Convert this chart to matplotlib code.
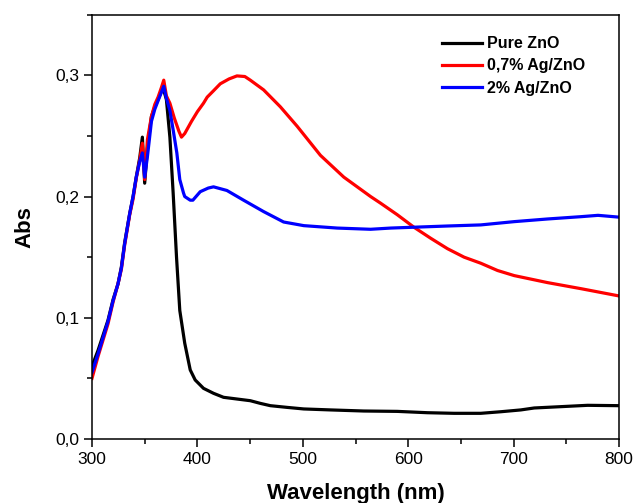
import matplotlib.pyplot as plt
from matplotlib.ticker import MultipleLocator, FuncFormatter

plt.rcParams['font.family'] = ['Liberation Sans', 'DejaVu Sans']

# Espectros UV-Vis (absorbancia x comprimento de onda)
wl_pure = [300, 305.7, 315.2, 320, 324.7, 327.9, 331, 335.8, 339, 342, 345.3, 347.8, 350,
           352.6, 356.4, 359.6, 362.7, 365.9, 368, 370.6, 373.9, 377, 380.2, 383.3, 388,
           393.2, 397.9, 405.8, 415.3, 424.8, 437.5, 450.2, 459.7, 469.2, 485, 500.9, 526.2,
           557.9, 589.6, 618.1, 643.5, 668.8, 687.8, 706.8, 719.5, 744.9, 770.2, 800]
abs_pure = [0.060, 0.073, 0.098, 0.115, 0.128, 0.142, 0.162, 0.186, 0.200, 0.216, 0.232,
            0.249, 0.211, 0.240, 0.266, 0.274, 0.280, 0.287, 0.288, 0.280, 0.249, 0.203,
            0.150, 0.106, 0.079, 0.057, 0.0487, 0.0418, 0.0377, 0.0344, 0.033, 0.0316,
            0.0294, 0.0275, 0.0261, 0.0248, 0.024, 0.0231, 0.0228, 0.0217, 0.0212, 0.0212,
            0.0225, 0.024, 0.0256, 0.0267, 0.0278, 0.0275]

wl_ag07 = [300, 305.7, 315.2, 320, 324.7, 327.9, 331, 335.8, 339, 342, 345.3, 347.8, 350,
           352.6, 356.4, 359.6, 362.7, 365.9, 368.1, 370.6, 373.9, 378, 382.4, 384.9, 388,
           394.4, 400, 405.8, 409.3, 415, 421.7, 430, 437.5, 445, 450.2, 462.8, 478.7, 494.6,
           516.7, 538.9, 564.3, 573.8, 589.6, 605.4, 621.3, 637.2, 653, 668.8, 684.7, 700.5,
           732.2, 763.9, 800]
abs_ag07 = [0.050, 0.068, 0.095, 0.113, 0.128, 0.140, 0.160, 0.185, 0.198, 0.215, 0.230,
            0.244, 0.214, 0.247, 0.266, 0.276, 0.282, 0.290, 0.296, 0.283, 0.277, 0.265,
            0.254, 0.249, 0.252, 0.262, 0.270, 0.277, 0.282, 0.287, 0.293, 0.297, 0.2995,
            0.299, 0.296, 0.288, 0.274, 0.258, 0.234, 0.216, 0.200, 0.1945, 0.185, 0.1747,
            0.1656, 0.157, 0.150, 0.145, 0.139, 0.1348, 0.129, 0.124, 0.118]

wl_ag2 = [300, 305.7, 315.2, 320, 324.7, 327.9, 331, 335.8, 339, 342, 345.3, 347.8, 350,
          352.6, 356.4, 359.6, 362.7, 365.9, 368.1, 370.6, 373.9, 377, 380.5, 383.3, 386.8,
          388, 393.2, 395.7, 402.7, 410.3, 415.3, 428, 443.8, 462.8, 481.8, 500.9, 532.6,
          564.3, 583.3, 605.4, 637.2, 668.8, 700.5, 732.2, 763.9, 780, 800]
abs_ag2 = [0.055, 0.070, 0.097, 0.114, 0.128, 0.141, 0.161, 0.186, 0.200, 0.216, 0.229,
           0.236, 0.216, 0.233, 0.262, 0.272, 0.279, 0.286, 0.291, 0.281, 0.271, 0.255,
           0.236, 0.214, 0.203, 0.200, 0.197, 0.197, 0.204, 0.207, 0.208, 0.205, 0.197,
           0.1876, 0.179, 0.176, 0.174, 0.173, 0.174, 0.1747, 0.1757, 0.1766, 0.1793,
           0.1815, 0.1834, 0.1845, 0.183]

fig = plt.figure(figsize=(6.33, 5.03), dpi=100)
ax = fig.add_axes([0.1453, 0.1272, 0.8327, 0.8436])

ax.plot(wl_pure, abs_pure, color='black', lw=2.3, label='Pure ZnO')
ax.plot(wl_ag07, abs_ag07, color='#ff0000', lw=2.3, label='0,7% Ag/ZnO')
ax.plot(wl_ag2, abs_ag2, color='#0000ff', lw=2.3, label='2% Ag/ZnO')

ax.set_xlim(300, 800)
ax.set_ylim(0, 0.35)
ax.xaxis.set_major_locator(MultipleLocator(100))
ax.xaxis.set_minor_locator(MultipleLocator(50))
ax.yaxis.set_major_locator(MultipleLocator(0.1))
ax.yaxis.set_minor_locator(MultipleLocator(0.05))
ax.yaxis.set_major_formatter(FuncFormatter(lambda v, p: f'{v:.1f}'.replace('.', ',')))

ax.tick_params(which='major', direction='out', length=6, width=1.1, labelsize=12.5, pad=3)
ax.tick_params(which='minor', direction='out', length=3.5, width=1.1)
for s in ax.spines.values():
    s.set_linewidth(1.1)

ax.set_xlabel('Wavelength (nm)', fontsize=16, fontweight='bold', labelpad=12)
ax.set_ylabel('Abs', fontsize=16, fontweight='bold', labelpad=14)

leg = ax.legend(loc='upper left', bbox_to_anchor=(0.699, 0.928),
                bbox_transform=fig.transFigure, frameon=False, borderpad=0,
                borderaxespad=0, handlelength=2.5, handletextpad=0.3,
                labelspacing=0.45, prop={'size': 11.5, 'weight': 'bold'})

fig.savefig('out.png', dpi=100)
